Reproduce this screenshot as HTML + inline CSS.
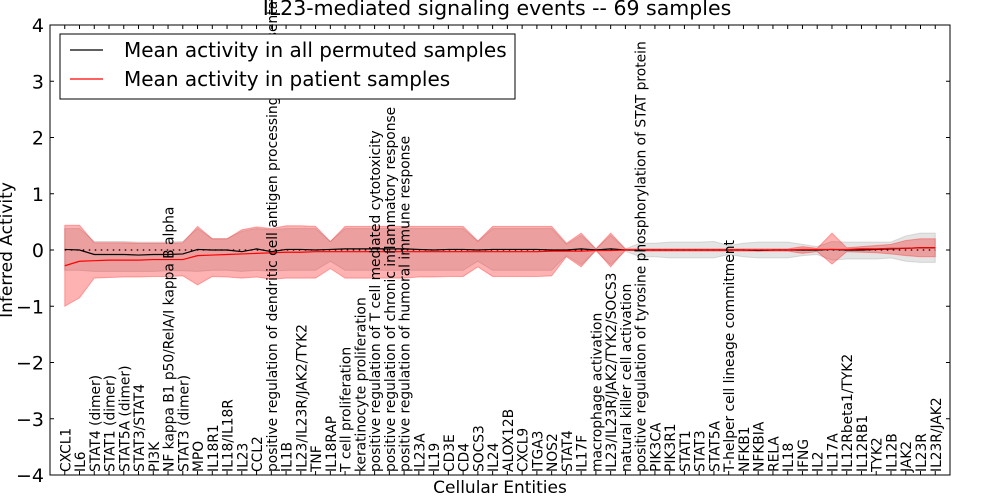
<!DOCTYPE html>
<html><head><meta charset="utf-8"><style>
html,body{margin:0;padding:0;background:#fff;}
svg{display:block;font-family:"DejaVu Sans","Liberation Sans",sans-serif;}
</style></head><body>
<svg id="chart" width="1000" height="500" viewBox="0 0 1000 500" xmlns="http://www.w3.org/2000/svg">
<defs><clipPath id="plotclip"><rect x="50" y="25" width="900" height="450"/></clipPath></defs>
<text x="497" y="15" text-anchor="middle" font-size="20.5">IL23-mediated signaling events -- 69 samples</text>
<g id="bands" clip-path="url(#plotclip)"></g>
<g id="labels"></g>
<g id="axes"></g>
<rect x="50" y="25" width="900" height="450" fill="none" stroke="#000" stroke-width="1"/>
<g>
<rect x="60" y="34" width="455" height="65" fill="#fff" stroke="#000" stroke-width="1"/>
<line x1="70" y1="50" x2="103" y2="50" stroke="#000" stroke-width="1.2"/>
<text x="124" y="57" font-size="20">Mean activity in all permuted samples</text>
<line x1="70" y1="79" x2="103" y2="79" stroke="#f00" stroke-width="1.2"/>
<text x="124" y="86" font-size="20">Mean activity in patient samples</text>
</g>
<text x="500" y="493" text-anchor="middle" font-size="17">Cellular Entities</text>
<text transform="translate(12,250) rotate(-90)" text-anchor="middle" font-size="17">Inferred Activity</text>
</svg>
<script>
const categories = ["CXCL1","IL6","STAT4 (dimer)","STAT1 (dimer)","STAT5A (dimer)","STAT3/STAT4","PI3K","NF kappa B1 p50/RelA/I kappa B alpha","STAT3 (dimer)","MPO","IL18R1","IL18/IL18R","IL23","CCL2","positive regulation of dendritic cell antigen processing and presentation","IL1B","IL23/IL23R/JAK2/TYK2","TNF","IL18RAP","T cell proliferation","keratinocyte proliferation","positive regulation of T cell mediated cytotoxicity","positive regulation of chronic inflammatory response","positive regulation of humoral immune response","IL23A","IL19","CD3E","CD4","SOCS3","IL24","ALOX12B","CXCL9","ITGA3","NOS2","STAT4","IL17F","macrophage activation","IL23/IL23R/JAK2/TYK2/SOCS3","natural killer cell activation","positive regulation of tyrosine phosphorylation of STAT protein","PIK3CA","PIK3R1","STAT1","STAT3","STAT5A","T-helper cell lineage commitment","NFKB1","NFKBIA","RELA","IL18","IFNG","IL2","IL17A","IL12Rbeta1/TYK2","IL12RB1","TYK2","IL12B","JAK2","IL23R","IL23R/JAK2"];
const permMean = [0.01,0.0,-0.08,-0.08,-0.08,-0.09,-0.08,-0.08,-0.07,0.01,0,0,-0.03,0.02,-0.03,0.01,0.01,0.0,0.01,0.02,0.02,0.02,0.02,0.02,0.01,0.0,0.01,0.01,0.0,0.01,0.01,0.01,0.01,0.0,0.0,0.02,0.0,0.02,0.0,0.0,0.0,0.0,0.0,0.0,0.0,0.0,0.0,-0.01,0.0,0.0,0.0,0.0,0.01,0.0,0.0,0.01,0.02,0.03,0.04,0.04];
const permLow = [-0.36,-0.36,-0.38,-0.38,-0.38,-0.38,-0.38,-0.37,-0.37,-0.38,-0.36,-0.36,-0.38,-0.36,-0.38,-0.36,-0.36,-0.36,-0.2,-0.36,-0.36,-0.36,-0.36,-0.36,-0.36,-0.36,-0.36,-0.36,-0.2,-0.36,-0.36,-0.36,-0.36,-0.36,-0.1,-0.26,-0.02,-0.26,-0.02,-0.12,-0.12,-0.14,-0.14,-0.14,-0.14,-0.08,-0.12,-0.14,-0.14,-0.14,-0.1,-0.08,-0.18,-0.16,-0.16,-0.16,-0.14,-0.2,-0.22,-0.22];
const permHigh = [0.38,0.38,0.15,0.15,0.15,0.14,0.14,0.14,0.15,0.38,0.2,0.2,0.33,0.38,0.36,0.38,0.38,0.38,0.15,0.38,0.38,0.38,0.38,0.38,0.38,0.38,0.38,0.38,0.15,0.38,0.38,0.38,0.38,0.38,0.1,0.26,0.02,0.26,0.02,0.12,0.12,0.14,0.14,0.14,0.15,0.08,0.12,0.14,0.14,0.14,0.1,0.06,0.15,0.14,0.14,0.14,0.14,0.25,0.3,0.3];
const patMean = [-0.28,-0.2,-0.19,-0.18,-0.18,-0.18,-0.17,-0.17,-0.17,-0.1,-0.09,-0.08,-0.07,-0.06,-0.05,-0.04,-0.04,-0.03,-0.03,-0.03,-0.03,-0.03,-0.03,-0.03,-0.03,-0.03,-0.03,-0.03,-0.03,-0.03,-0.03,-0.03,-0.03,-0.02,-0.02,-0.02,-0.01,-0.01,0,0,0,0,0,0,0,0,0,0,0,0,0.01,0.01,0.01,0.01,0.02,0.02,0.03,0.03,0.04,0.04];
const patLow = [-1.0,-0.85,-0.5,-0.49,-0.48,-0.48,-0.47,-0.47,-0.46,-0.62,-0.47,-0.48,-0.5,-0.48,-0.52,-0.5,-0.5,-0.5,-0.33,-0.5,-0.5,-0.5,-0.5,-0.5,-0.48,-0.48,-0.47,-0.47,-0.3,-0.47,-0.47,-0.47,-0.47,-0.46,-0.12,-0.3,0,-0.3,0,-0.02,-0.02,-0.02,-0.02,-0.02,-0.02,-0.02,-0.02,-0.02,-0.02,-0.02,-0.06,-0.03,-0.25,-0.03,-0.04,-0.05,-0.07,-0.1,-0.12,-0.12];
const patHigh = [0.44,0.44,0.13,0.13,0.13,0.12,0.12,0.12,0.13,0.42,0.2,0.2,0.36,0.41,0.38,0.43,0.43,0.42,0.15,0.42,0.42,0.42,0.42,0.42,0.42,0.42,0.42,0.42,0.16,0.42,0.42,0.42,0.42,0.42,0.12,0.3,0.02,0.3,0.02,0.02,0.02,0.02,0.02,0.02,0.02,0.02,0.02,0.02,0.02,0.02,0.06,0.03,0.3,0.04,0.06,0.08,0.1,0.17,0.2,0.2];
const yTicks = [-4,-3,-2,-1,0,1,2,3,4];

const NS = "http://www.w3.org/2000/svg";
const X0 = 50, X1 = 950, Y0 = 25, Y1 = 475;
const xMin = -1, xMax = categories.length;
const yMin = -4, yMax = 4;
function xScale(i){ return X0 + (i - xMin) / (xMax - xMin) * (X1 - X0); }
function yScale(v){ return Y1 - (v - yMin) / (yMax - yMin) * (Y1 - Y0); }
function mk(tag, attrs, parent){ const e = document.createElementNS(NS, tag); for (const k in attrs) e.setAttribute(k, attrs[k]); parent.appendChild(e); return e; }
function bandPath(lo, hi){
  let d = "";
  hi.forEach((v,i)=>{ d += (i? "L":"M") + xScale(i).toFixed(2) + "," + yScale(v).toFixed(2); });
  for (let i = lo.length-1; i >= 0; i--) d += "L" + xScale(i).toFixed(2) + "," + yScale(lo[i]).toFixed(2);
  return d + "Z";
}
function linePath(arr){ return arr.map((v,i)=>(i? "L":"M") + xScale(i).toFixed(2) + "," + yScale(v).toFixed(2)).join(""); }

const bands = document.getElementById("bands");
const gb = mk("path", {d: bandPath(permLow, permHigh), fill: "#b3b3b3", "fill-opacity": "0.35", stroke: "#aaa", "stroke-opacity": "0.4", "stroke-width": "1"}, bands);


const rb = mk("path", {d: bandPath(patLow, patHigh), fill: "#ff0000", "fill-opacity": "0.3", stroke: "#ff0000", "stroke-opacity": "0.3", "stroke-width": "1"}, bands);


const zl = mk("line", {x1: xScale(0), x2: xScale(categories.length-1), y1: yScale(0), y2: yScale(0), stroke: "#000", "stroke-width": "1.2", "stroke-dasharray": "1.5,4.5"}, bands);


const pl = mk("path", {d: linePath(permMean), fill: "none", stroke: "#000", "stroke-width": "1.2"}, bands);


const rl = mk("path", {d: linePath(patMean), fill: "none", stroke: "#f00", "stroke-width": "1.2"}, bands);



const labels = document.getElementById("labels");
const axes = document.getElementById("axes");
categories.forEach((c,i)=>{
  const x = xScale(i);
  const t = mk("text", {transform: "translate(" + (x+5.5).toFixed(2) + ",472) rotate(-90)", "font-size": "13.8"}, labels);
  
  
  t.textContent = c;
  const tb = mk("line", {x1: x, x2: x, y1: Y1, y2: Y1-4, stroke: "#000", "stroke-width": "1"}, axes);
  
  
  const tt = mk("line", {x1: x, x2: x, y1: Y0, y2: Y0+4, stroke: "#000", "stroke-width": "1"}, axes);
  
  
});
yTicks.forEach(v=>{
  const y = yScale(v);
  const l1 = mk("line", {x1: X0, x2: X0+4, y1: y, y2: y, stroke: "#000", "stroke-width": "1"}, axes);
  
  
  const l2 = mk("line", {x1: X1-4, x2: X1, y1: y, y2: y, stroke: "#000", "stroke-width": "1"}, axes);
  
  
  const t = mk("text", {x: X0-6, y: y+7, "text-anchor": "end", "font-size": "19"}, axes);
  
  
  t.textContent = v < 0 ? "\u2212" + Math.abs(v) : String(v);
});
</script>
</body></html>
